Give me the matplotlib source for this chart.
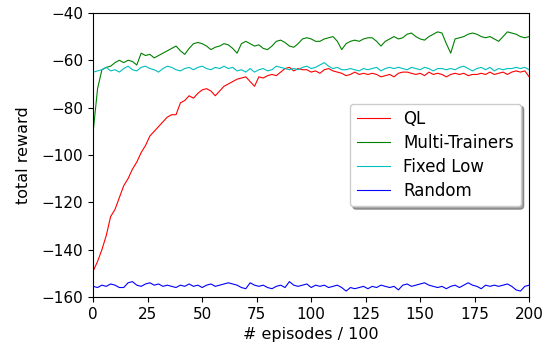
import numpy as np
import matplotlib
matplotlib.use("Agg")
import matplotlib.pyplot as plt

# episodes / 100, sampled every 2
episodes = np.arange(0, 201, 2)

ql = [-149, -145, -140, -134, -126, -123, -118, -113, -110, -106,
      -103, -99, -96, -92, -90, -88, -86, -84, -83, -83,
      -78, -77, -75, -76, -74, -72.5, -72, -73, -75, -73,
      -71, -70, -69, -68, -67.5, -67, -69, -71, -67, -67.5,
      -66.5, -66, -66.5, -65, -63.5, -63, -64.5, -63.5, -64, -64,
      -65, -64.5, -65.5, -64, -63.5, -64.5, -65, -65.5, -66.5, -66,
      -65, -66, -65.5, -66, -65.5, -66, -67, -66.5, -66, -67,
      -65.5, -65, -65, -65.5, -66, -65.5, -66.5, -65, -66, -65.5,
      -66, -67, -66, -65.5, -66, -65.5, -66.5, -66, -66, -65.5,
      -66, -65, -66, -65.5, -65, -66, -65, -64.5, -65, -64.5,
      -67]

multi = [-90, -72, -64, -63, -62.5, -61, -60, -61, -60, -60.5,
         -62, -57, -58, -57.5, -59, -58, -57, -56, -55, -54,
         -56, -57.5, -55, -53, -52.5, -53, -54, -55.5, -54.5, -54,
         -53, -53.5, -55, -57, -53, -52, -53, -54, -53.5, -55,
         -55.5, -54, -52, -51.5, -52.5, -54, -54.5, -53, -51, -50.5,
         -51, -52, -52, -51, -50.5, -50, -52, -55.5, -53, -52,
         -51.5, -52, -51, -50.5, -50.5, -52, -54, -52, -51, -50,
         -51, -50.5, -49, -48.5, -50, -51, -51.5, -50, -49, -48,
         -48.5, -53, -57, -51, -50.5, -50, -49, -48.5, -49, -50,
         -50.5, -50, -51, -52, -50, -48, -48.5, -49, -50, -50.5,
         -50]

fixed_low = [-65, -64.5, -64, -63, -64.5, -64, -65, -63.5, -62.5, -64,
             -64.5, -63, -62.5, -63.5, -64, -65, -63.5, -62.5, -63, -64,
             -64.5, -63.5, -63, -64, -63, -62.5, -63.5, -64, -63, -63.5,
             -62.5, -63.5, -63, -64.5, -64, -65, -63.5, -65, -64, -63.5,
             -64.5, -64, -62.5, -63, -63.5, -64, -63.5, -64, -63, -62.5,
             -63.5, -63, -62, -61, -62.5, -63.5, -63, -64, -64, -63.5,
             -64, -64.5, -63.5, -64, -63.5, -63, -64.5, -63.5, -63, -63.5,
             -63, -63.5, -64, -63, -63.5, -64, -63, -63.5, -64.5, -63.5,
             -63.5, -64, -63.5, -64, -63, -62.5, -63.5, -64.5, -63.5, -63,
             -64, -63, -64.5, -63.5, -64, -63.5, -63.5, -63, -63.5, -63,
             -64]

random_ = [-155.5, -156, -155, -155.5, -154.5, -155, -156, -156, -154, -153.5,
           -155, -155.5, -154.5, -154, -155, -154.5, -155.5, -155, -155.5, -156,
           -155, -155.5, -154.5, -155.5, -155, -156, -155, -154.5, -155.5, -155,
           -154.5, -154, -154.5, -155, -156, -156.5, -154, -155, -155.5, -155,
           -156, -156.5, -155.5, -155, -156, -153.5, -155, -155.5, -155, -154.5,
           -156, -155, -155.5, -155, -156, -155.5, -155, -156, -157.5, -156,
           -156.5, -156, -155.5, -156.5, -155.5, -156, -155, -155.5, -156, -155.5,
           -157, -155, -154.5, -155.5, -155, -154.5, -154, -155, -155.5, -156,
           -155.5, -156.5, -155.5, -155, -156, -155, -154, -155, -155.5, -156.5,
           -155, -155.5, -155, -155.5, -155, -154.5, -155.5, -157, -157.5, -155.5,
           -155]

fig = plt.figure(figsize=(5.45, 3.49), dpi=100)
ax = fig.add_axes([0.171, 0.149, 0.8, 0.814])

ax.plot(episodes, ql, color='r', lw=0.8, label='QL')
ax.plot(episodes, multi, color='g', lw=0.8, label='Multi-Trainers')
ax.plot(episodes, fixed_low, color='c', lw=0.8, label='Fixed Low')
ax.plot(episodes, random_, color='b', lw=0.8, label='Random')

ax.set_xlim(0, 200)
ax.set_ylim(-160, -40)
ax.set_xticks(np.arange(0, 201, 25))
ax.set_yticks(np.arange(-160, -39, 20))
ax.tick_params(labelsize=11)
ax.set_xlabel('# episodes / 100', fontsize=11.5)
ax.set_ylabel('total reward', fontsize=11.5, labelpad=8)
ax.legend(loc='center right', shadow=True, fancybox=True, framealpha=1,
          fontsize=12, labelspacing=0.35, borderpad=0.4)

fig.savefig('out.png', dpi=100)
